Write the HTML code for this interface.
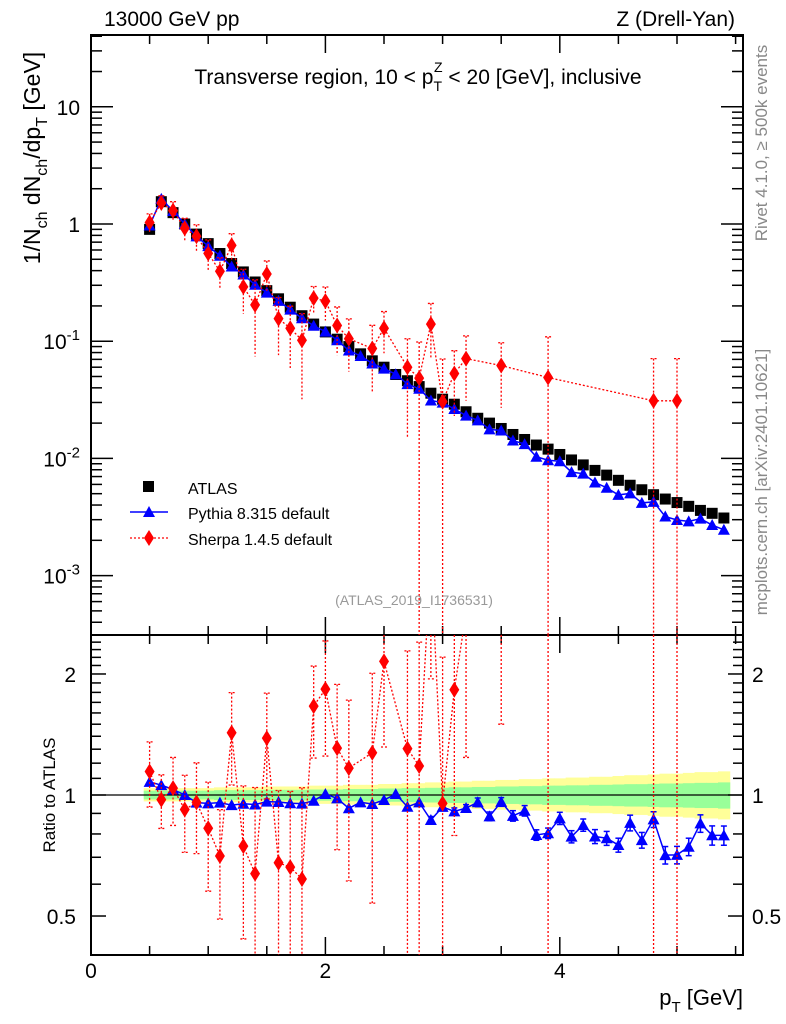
<!DOCTYPE html>
<html><head><meta charset="utf-8"><style>
body{margin:0;background:#fff;}
svg{display:block;font-family:"Liberation Sans",sans-serif;}
</style></head><body>
<svg id="c" width="786" height="1024" xmlns="http://www.w3.org/2000/svg"></svg>
<script>
const xs=[0.5,0.6,0.7,0.8,0.9,1.0,1.1,1.2,1.3,1.4,1.5,1.6,1.7,1.8,1.9,2.0,2.1,2.2,2.3,2.4,2.5,2.6,2.7,2.8,2.9,3.0,3.1,3.2,3.3,3.4,3.5,3.6,3.7,3.8,3.9,4.0,4.1,4.2,4.3,4.4,4.5,4.6,4.7,4.8,4.9,5.0,5.1,5.2,5.3,5.4];
const atlas=[0.9,1.55,1.25,1.0,0.82,0.68,0.56,0.46,0.39,0.32,0.27,0.23,0.195,0.165,0.14,0.12,0.104,0.09,0.078,0.068,0.06,0.052,0.046,0.041,0.036,0.032,0.029,0.025,0.022,0.02,0.018,0.016,0.0145,0.013,0.012,0.0108,0.0097,0.0088,0.0079,0.0072,0.0065,0.0059,0.0054,0.0049,0.0045,0.0042,0.0039,0.0036,0.0034,0.0031];
const pythia=[0.97,1.64,1.29,1.0,0.785,0.648,0.536,0.434,0.371,0.303,0.26,0.221,0.186,0.157,0.1355,0.1207,0.102,0.0834,0.0748,0.0646,0.0583,0.0523,0.043,0.0393,0.0312,0.0299,0.0264,0.0232,0.0211,0.0177,0.0173,0.0142,0.01325,0.01034,0.00964,0.00945,0.00764,0.00741,0.00623,0.00562,0.00488,0.00503,0.00417,0.00426,0.00319,0.00298,0.0029,0.00306,0.0027,0.00246];
const pythiaRelErr=[0.01,0.01,0.01,0.01,0.01,0.01,0.01,0.01,0.01,0.01,0.01,0.01,0.01,0.01,0.01,0.01,0.012,0.012,0.012,0.012,0.015,0.015,0.015,0.015,0.02,0.02,0.02,0.02,0.025,0.025,0.025,0.03,0.03,0.03,0.03,0.035,0.035,0.035,0.04,0.04,0.04,0.045,0.045,0.045,0.05,0.05,0.05,0.05,0.055,0.055];
const sherpa=[1.03,1.51,1.30,0.92,0.786,0.562,0.395,0.657,0.291,0.204,0.374,0.156,0.129,0.102,0.233,0.22,0.136,0.105,null,0.0866,0.129,null,0.06,0.0484,0.14,0.0305,0.053,0.071,null,null,0.062,null,null,null,0.049,null,null,null,null,null,null,null,null,0.031,null,0.031,null,null,null,null];
const sherpaErr=[0.19,0.23,0.25,0.2,0.2,0.17,0.12,0.17,0.12,0.13,0.11,0.08,0.07,0.07,0.06,0.07,0.06,0.05,0,0.05,0.05,0,0.045,0.05,0.07,0.04,0.03,0.04,0,0,0.035,0,0,0,0.06,0,0,0,0,0,0,0,0,0.04,0,0.04,0,0,0,0];
const bandYellow=[0.04,0.04,0.04,0.04,0.04,0.04,0.045,0.045,0.045,0.045,0.05,0.05,0.05,0.05,0.055,0.055,0.055,0.06,0.06,0.06,0.065,0.065,0.07,0.07,0.075,0.075,0.08,0.08,0.085,0.085,0.09,0.09,0.095,0.095,0.1,0.1,0.105,0.105,0.11,0.11,0.115,0.12,0.12,0.125,0.13,0.13,0.135,0.14,0.14,0.145];
const bandGreen=[0.025,0.025,0.025,0.025,0.025,0.025,0.028,0.028,0.028,0.028,0.03,0.03,0.03,0.03,0.032,0.032,0.032,0.035,0.035,0.035,0.038,0.038,0.04,0.04,0.042,0.042,0.045,0.045,0.047,0.047,0.05,0.05,0.052,0.052,0.055,0.055,0.057,0.057,0.06,0.06,0.062,0.064,0.064,0.066,0.068,0.068,0.07,0.072,0.072,0.075];
const mainTicks=["10","1","10^-1","10^-2","10^-3"];
const ratioTickVals=[0.5,1,2];
const xTickVals=[0,2,4];

const S=document.getElementById('c');
const NS='http://www.w3.org/2000/svg';
function mk(tag,at,parent){const e=document.createElementNS(NS,tag);for(const k in at)e.setAttribute(k,at[k]);(parent||S).appendChild(e);return e;}
const L=91,R=743,T=35,MB=635,RB=955;
const X=v=>L+v*117.2;
const YM=v=>224-117.2*Math.log10(v);
const YR=v=>795-402*Math.log10(v);
const clipM=v=>Math.max(T,Math.min(MB,v));
const clipR=v=>Math.max(MB,Math.min(RB,v));
const hw=0.05;

for(let i=0;i<xs.length;i++){
 let r=mk('rect',{x:X(xs[i]-hw),y:YR(1+bandYellow[i]),width:X(xs[i]+hw)-X(xs[i]-hw)+0.5,height:YR(1-bandYellow[i]*0.9)-YR(1+bandYellow[i]),fill:'#ffff99'});
 
 
}
for(let i=0;i<xs.length;i++){
 let r=mk('rect',{x:X(xs[i]-hw),y:YR(1+bandGreen[i]),width:X(xs[i]+hw)-X(xs[i]-hw)+0.5,height:YR(1-bandGreen[i])-YR(1+bandGreen[i]),fill:'#99ff99'});
 
 
}
mk('line',{x1:L,x2:R,y1:YR(1),y2:YR(1),stroke:'#000','stroke-width':1.3});

const fm=mk('rect',{x:L,y:T,width:R-L,height:MB-T,fill:'none',stroke:'#000','stroke-width':2});

const fr=mk('rect',{x:L,y:MB,width:R-L,height:RB-MB,fill:'none',stroke:'#000','stroke-width':2});


for(let v=0;v<=5.5;v+=0.5){
 const big=Math.abs(v%2)<1e-6;const len=big?18:9;
 mk('line',{x1:X(v),x2:X(v),y1:T,y2:T+len,stroke:'#000','stroke-width':1.5});
 mk('line',{x1:X(v),x2:X(v),y1:MB,y2:MB-len,stroke:'#000','stroke-width':1.5});
 mk('line',{x1:X(v),x2:X(v),y1:MB,y2:MB+len,stroke:'#000','stroke-width':1.5});
 mk('line',{x1:X(v),x2:X(v),y1:RB,y2:RB-len,stroke:'#000','stroke-width':1.5});
}
xTickVals.forEach(v=>{const t=mk('text',{x:X(v),y:978,'font-size':21,'text-anchor':'middle'});t.textContent=v;
 });

for(let d=-4;d<=1;d++){
 for(let m=1;m<10;m++){
  const v=m*Math.pow(10,d);const y=YM(v);if(y<T||y>MB)continue;
  const len=m==1?22:11;
  mk('line',{x1:L,x2:L+len,y1:y,y2:y,stroke:'#000','stroke-width':1.5});
  mk('line',{x1:R,x2:R-len,y1:y,y2:y,stroke:'#000','stroke-width':1.5});
 }
}
mainTicks.forEach((s,i)=>{
 const y=YM(Math.pow(10,1-i))+8;
 const t=mk('text',{x:80,y:y,'font-size':21,'text-anchor':'end'});
 
 if(s.includes('^')){const p=s.split('^');t.appendChild(document.createTextNode(p[0]));const ts=mk('tspan',{dy:-9,'font-size':15},t);ts.textContent=p[1];}
 else t.textContent=s;
});
const rt=[0.4,0.5,0.6,0.7,0.8,0.9,1,1.1,1.2,1.3,1.4,1.5,1.6,1.7,1.8,1.9,2,2.1,2.2,2.3,2.4];
rt.forEach(v=>{const y=YR(v);const big=ratioTickVals.includes(v);const len=big?15:10;
 mk('line',{x1:L,x2:L+len,y1:y,y2:y,stroke:'#000','stroke-width':1.5});
 mk('line',{x1:R,x2:R-len,y1:y,y2:y,stroke:'#000','stroke-width':1.5});});
ratioTickVals.forEach(v=>{
 const t=mk('text',{x:76,y:YR(v)+8,'font-size':21,'text-anchor':'end'});t.textContent=v;
 
 const t2=mk('text',{x:752,y:YR(v)+8,'font-size':21});t2.textContent=v;
 
});

xs.forEach((x,i)=>{const y=YM(atlas[i]);
 const r=mk('rect',{x:X(x)-5.5,y:y-5.5,width:11,height:11,fill:'#000'});
 });

let pd='';xs.forEach((x,i)=>{pd+=(i?'L':'M')+X(x)+' '+YM(pythia[i]);});
mk('path',{d:pd,fill:'none',stroke:'#0000ff','stroke-width':1.5});
function tri(cx,cy,name){const p=mk('polygon',{points:`${cx},${cy-6} ${cx-6},${cy+5} ${cx+6},${cy+5}`,fill:'#0000ff'});
 }
xs.forEach((x,i)=>tri(X(x),YM(pythia[i]),'pythia-point'));
let rd='';xs.forEach((x,i)=>{const r=pythia[i]/atlas[i];rd+=(i?'L':'M')+X(x)+' '+YR(r);});
mk('path',{d:rd,fill:'none',stroke:'#0000ff','stroke-width':1.5});
xs.forEach((x,i)=>{const r=pythia[i]/atlas[i];const e=pythiaRelErr[i];
 if(e>0.015){mk('line',{x1:X(x),x2:X(x),y1:YR(r*(1+e)),y2:YR(r*(1-e)),stroke:'#0000ff','stroke-width':1.5});
 mk('line',{x1:X(x)-3,x2:X(x)+3,y1:YR(r*(1+e)),y2:YR(r*(1+e)),stroke:'#0000ff','stroke-width':1.5});
 mk('line',{x1:X(x)-3,x2:X(x)+3,y1:YR(r*(1-e)),y2:YR(r*(1-e)),stroke:'#0000ff','stroke-width':1.5});}
 tri(X(x),YR(r),'pythia-ratio-point');});

function dia(cx,cy,name){const p=mk('polygon',{points:`${cx},${cy-8} ${cx-5},${cy} ${cx},${cy+8} ${cx+5},${cy}`,fill:'#ff0000'});
 }
const sd={stroke:'#ff0000','stroke-width':1.3,'stroke-dasharray':'2,2',fill:'none'};
let sp='',srp='';let first=true;
xs.forEach((x,i)=>{if(sherpa[i]==null)return;
 sp+=(first?'M':'L')+X(x)+' '+YM(sherpa[i]);
 srp+=(first?'M':'L')+X(x)+' '+YR(sherpa[i]/atlas[i]);first=false;});
mk('path',Object.assign({d:sp},sd));
const gr=mk('g',{});
gr.setAttribute('clip-path','url(#rclip)');
const defs=mk('defs',{});const cp=mk('clipPath',{id:'rclip'},defs);mk('rect',{x:L,y:MB,width:R-L,height:RB-MB},cp);
mk('path',Object.assign({d:srp},sd),gr);
xs.forEach((x,i)=>{if(sherpa[i]==null)return;const v=sherpa[i],e=sherpaErr[i];
 const up=YM(v+e),lo=(v-e>0)?YM(v-e):MB;
 mk('line',Object.assign({x1:X(x),x2:X(x),y1:clipM(up),y2:clipM(lo)},sd));
 mk('line',Object.assign({x1:X(x)-3,x2:X(x)+3,y1:clipM(up),y2:clipM(up)},sd));
 dia(X(x),YM(v),'sherpa-point');
 const r=v/atlas[i],re=e/atlas[i];
 const rup=YR(r+re),rlo=(r-re>0)?YR(r-re):RB;
 mk('line',Object.assign({x1:X(x),x2:X(x),y1:clipR(rup),y2:clipR(rlo)},sd));
 if(rup>MB)mk('line',Object.assign({x1:X(x)-3,x2:X(x)+3,y1:rup,y2:rup},sd));
 if(rlo<RB)mk('line',Object.assign({x1:X(x)-3,x2:X(x)+3,y1:rlo,y2:rlo},sd));
 if(YR(r)>MB)dia(X(x),YR(r),'sherpa-ratio-point');
});

function txt(s,at,name){const t=mk('text',at);t.textContent=s;return t;}
txt('13000 GeV pp',{x:104,y:26,'font-size':21},'energy-label');
txt('Z (Drell-Yan)',{x:735,y:26,'font-size':21,'text-anchor':'end'},'process-label');
const ti=mk('text',{x:418,y:84,'font-size':21,'text-anchor':'middle'});

ti.innerHTML='Transverse region, 10 &lt; p<tspan dy="7" font-size="14">T</tspan><tspan dy="-19" dx="-8" font-size="14">Z</tspan><tspan dy="12"> &lt; 20 [GeV], inclusive</tspan>';
const yl=mk('text',{transform:'translate(40,158) rotate(-90)','font-size':23,'text-anchor':'middle'});

yl.innerHTML='1/N<tspan dy="7" font-size="16">ch</tspan><tspan dy="-7"> dN</tspan><tspan dy="7" font-size="16">ch</tspan><tspan dy="-7">/dp</tspan><tspan dy="7" font-size="16">T</tspan><tspan dy="-7"> [GeV]</tspan>';
txt('Ratio to ATLAS',{transform:'translate(55,795) rotate(-90)','font-size':17,'text-anchor':'middle'},'ratio-axis-title');
const xl=mk('text',{x:743,y:1005,'font-size':22,'text-anchor':'end'});

xl.innerHTML='p<tspan dy="7" font-size="15">T</tspan><tspan dy="-7"> [GeV]</tspan>';
txt('Rivet 4.1.0, \u2265 500k events',{transform:'translate(767,143) rotate(-90)','font-size':17,'text-anchor':'middle',fill:'#888'},'rivet-label');
txt('mcplots.cern.ch [arXiv:2401.10621]',{transform:'translate(767,482) rotate(-90)','font-size':17,'text-anchor':'middle',fill:'#888'},'mcplots-label');
txt('(ATLAS_2019_I1736531)',{x:414,y:605,'font-size':14,'text-anchor':'middle',fill:'#999'},'analysis-id');

const lg=mk('g',{});
mk('rect',{x:143,y:481,width:11,height:11,fill:'#000'},lg);
txt('ATLAS',{x:188,y:494,'font-size':16},'legend-atlas');
mk('line',{x1:130,x2:168,y1:512,y2:512,stroke:'#0000ff','stroke-width':1.5},lg);
tri(149,512,'legend-pythia-marker');
txt('Pythia 8.315 default',{x:188,y:519,'font-size':16},'legend-pythia');
mk('line',Object.assign({x1:130,x2:168,y1:538,y2:538},sd),lg);
dia(149,538,'legend-sherpa-marker');
txt('Sherpa 1.4.5 default',{x:188,y:545,'font-size':16},'legend-sherpa');
</script>
</body></html>
